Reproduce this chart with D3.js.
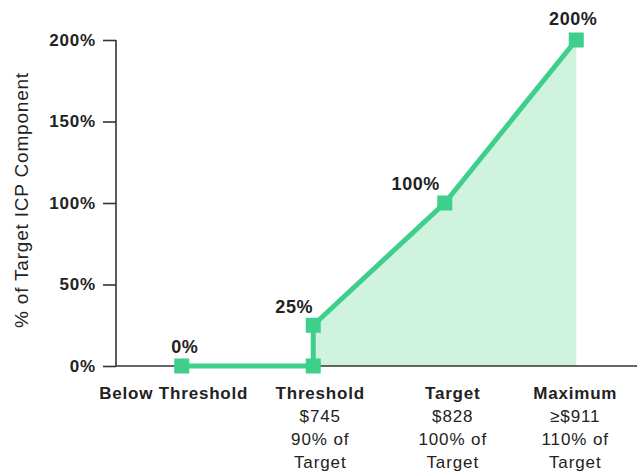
<!DOCTYPE html>
<html>
<head>
<meta charset="utf-8">
<script src="https://cdn.jsdelivr.net/npm/d3@7"></script>
<style>
  body { margin: 0; background: #fff; }
  text { font-family: "Liberation Sans", Arial, sans-serif; fill: #222; }
</style>
</head>
<body>
<div id="chart"></div>
<script>
// data
var categories = ['Below Threshold', 'Threshold', 'Target', 'Maximum'];
var subLabels = [[], ['$745', '90% of', 'Target'], ['$828', '100% of', 'Target'], ['\u2265$911', '110% of', 'Target']];
var pointCats = ['Below Threshold', 'Threshold', 'Threshold', 'Target', 'Maximum'];
var pointVals = [0, 0, 25, 100, 200];
var valueLabels = ['0%', null, '25%', '100%', '200%'];
var yTicks = [0, 50, 100, 150, 200];

var width = 637,
    height = 472;

var x = d3.scalePoint()
    .domain(categories)
    .range([116, 642])
    .padding(0.5);

var y = d3.scaleLinear()
    .domain([0, 200])
    .range([366, 40]);

var svg = d3.select('#chart').append('svg')
    .attr('width', width)
    .attr('height', height);

var points = pointCats.map(function(c, i) {
  return { cat: c, value: pointVals[i], label: valueLabels[i] };
});

// shaded area from threshold upward
var area = d3.area()
    .x(function(d) { return x(d.cat); })
    .y0(y(0))
    .y1(function(d) { return y(d.value); });

svg.append('path')
    .datum(points.slice(1))
    .attr('d', area)
    .attr('fill', '#cff3de');

// y axis
var yAxis = d3.axisLeft(y)
    .tickValues(yTicks)
    .tickSize(13)
    .tickPadding(7)
    .tickFormat(function(d) { return d + '%'; });

var gy = svg.append('g')
    .attr('transform', 'translate(116,0)')
    .call(yAxis);
gy.select('.domain').attr('stroke', '#333').attr('stroke-width', 1.6).attr('d', 'M0,40V366');
gy.selectAll('.tick line').attr('stroke', '#333').attr('stroke-width', 1.6);
gy.selectAll('.tick text')
    .attr('font-size', 17)
    .attr('font-weight', 'bold')
    .style('font-family', '"Liberation Sans", Arial, sans-serif')
    .style('letter-spacing', '0.8px')
    .attr('fill', '#222');

// x axis line
svg.append('line')
    .attr('x1', 116).attr('x2', 637)
    .attr('y1', y(0)).attr('y2', y(0))
    .attr('stroke', '#333')
    .attr('stroke-width', 1.6);

// y title
svg.append('text')
    .attr('transform', 'translate(28,200) rotate(-90)')
    .attr('text-anchor', 'middle')
    .attr('font-size', 19)
    .style('letter-spacing', '0.8px')
    .text('% of Target ICP Component');

// line
var line = d3.line()
    .x(function(d) { return x(d.cat); })
    .y(function(d) { return y(d.value); });

svg.append('path')
    .datum(points)
    .attr('d', line)
    .attr('fill', 'none')
    .attr('stroke', '#3ecf8c')
    .attr('stroke-width', 5);

svg.selectAll('.marker')
    .data(points)
  .enter().append('rect')
    .attr('class', 'marker')
    .attr('x', function(d) { return x(d.cat) - 7.5; })
    .attr('y', function(d) { return y(d.value) - 7.5; })
    .attr('width', 15)
    .attr('height', 15)
    .attr('fill', '#3ecf8c');

// value labels
var labelOffsets = [[3, -13], null, [-19, -12], [-29, -13], [-3, -15]];
svg.selectAll('.vlabel')
    .data(points.filter(function(d) { return d.label; }))
  .enter().append('text')
    .attr('class', 'vlabel')
    .attr('text-anchor', 'middle')
    .attr('font-size', 18)
    .attr('font-weight', 'bold')
    .style('letter-spacing', '0.6px')
    .attr('x', function(d) { var o = labelOffsets[points.indexOf(d)]; return x(d.cat) + o[0]; })
    .attr('y', function(d) { var o = labelOffsets[points.indexOf(d)]; return y(d.value) + o[1]; })
    .text(function(d) { return d.label; });

// category labels (nudged a little off the points, as in the original)
var catShift = [-8, 7, 8, -1];
var cat = svg.selectAll('.cat')
    .data(categories)
  .enter().append('text')
    .attr('class', 'cat')
    .attr('text-anchor', 'middle')
    .attr('font-size', 17)
    .attr('x', function(d, i) { return x(d) + catShift[i]; })
    .attr('y', 399);

cat.append('tspan')
    .attr('font-weight', 'bold')
    .style('letter-spacing', '0.8px')
    .text(function(d) { return d; });

cat.each(function(d, i) {
  var t = d3.select(this);
  subLabels[i].forEach(function(s) {
    t.append('tspan')
      .attr('x', x(d) + catShift[i])
      .attr('dy', 23)
      .style('letter-spacing', '0.9px')
      .text(s);
  });
});
</script>
</body>
</html>
